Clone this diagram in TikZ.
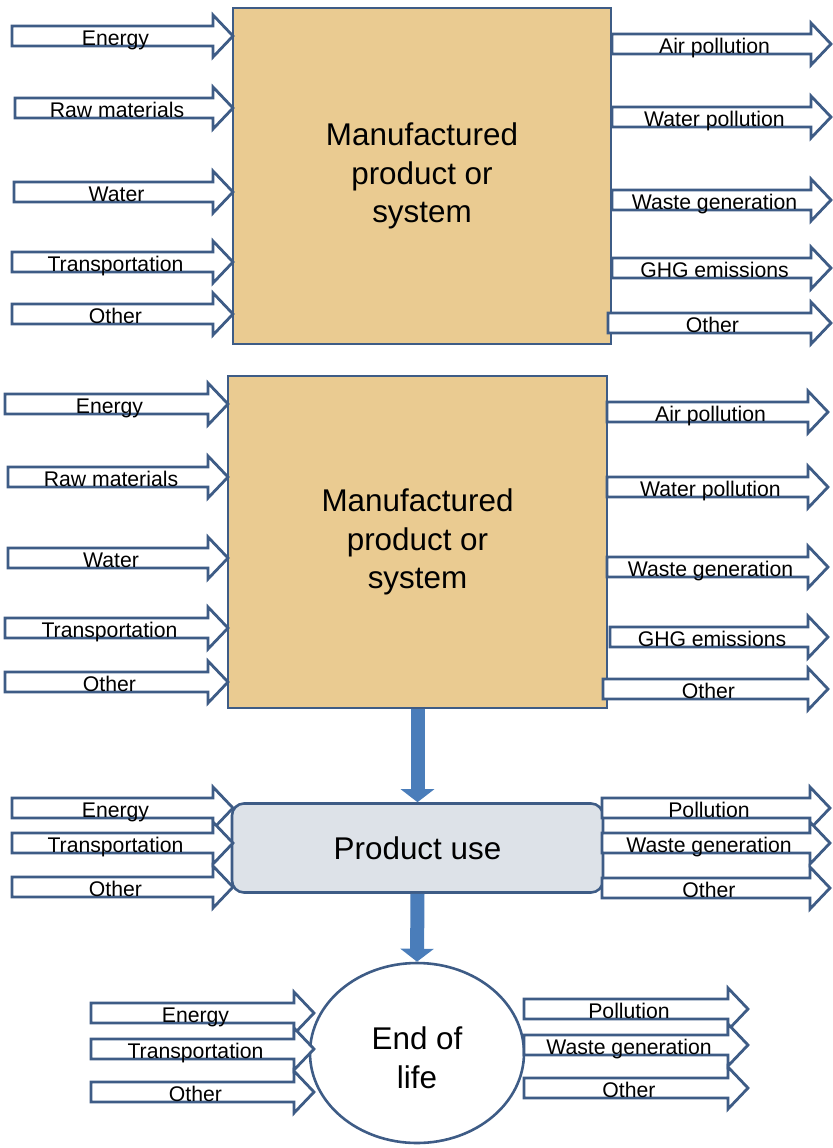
\documentclass[tikz,border=0pt]{standalone}
\usepackage{fontspec}
\setmainfont{Liberation Sans}
\usepackage{tikz}
\usetikzlibrary{arrows.meta,shapes.geometric}

\definecolor{arrowline}{HTML}{3E5C86}
\definecolor{papyrus}{HTML}{EACB91}
\definecolor{usegray}{HTML}{DDE2E8}
\definecolor{flowblue}{HTML}{4A7DBA}

\tikzset{
  flowarrow/.style={draw=arrowline, fill=white, line width=1.4pt, line join=miter},
  flowlabel/.style={anchor=base, inner sep=0pt, font=\fontsize{10.6}{12}\selectfont},
  stagebox/.style={draw=arrowline, fill=papyrus, line width=1.4pt, align=center,
    minimum width=189pt, minimum height=168pt, font=\fontsize{15.7}{19.3}\selectfont},
  usebox/.style={draw=arrowline, fill=usegray, line width=1.3pt, rounded corners=6pt,
    minimum width=185.5pt, minimum height=44.5pt, font=\fontsize{15.7}{19.3}\selectfont},
  eolbox/.style={ellipse, draw=arrowline, fill=white, line width=1.3pt,
    minimum width=107pt, minimum height=90pt},
  eoltext/.style={align=center, font=\fontsize{15.7}{19.3}\selectfont},
  downflow/.style={draw=flowblue, line width=7pt, -{Triangle[width=16.5pt,length=6.5pt]}}
}

% #1 name, #2 tail x, #3 tip x, #4 centre y, #5 text
\newcommand{\flowarrow}[5]{%
  \draw[flowarrow] (#2,#4-10) -- (#3-20,#4-10) -- (#3-20,#4-21) -- (#3,#4)
    -- (#3-20,#4+21) -- (#3-20,#4+10) -- (#2,#4+10) -- cycle;
  \node[flowlabel] (#1) at ({(#2+#3-20)/2+3},#4+9) {#5};
}

\begin{document}
\begin{tikzpicture}[x=0.5pt, y=-0.5pt]
    \useasboundingbox (0,0) rectangle (833,1148);

    % Manufacturing stage (top)
    \node[stagebox] (make1) at (422,176) {Manufactured\\product or\\system};
    \foreach \n/\lx/\y/\txt in {ia/12/36/Energy, ib/15/108/Raw materials, ic/14/192/Water,
        id/12/262/Transportation, ie/12/314/Other}
      {\flowarrow{make1-\n}{\lx}{233}{\y}{\txt}}
    \foreach \n/\lx/\y/\txt in {oa/612/44/Air pollution, ob/612/117/Water pollution,
        oc/612/200/Waste generation, od/612/268/GHG emissions, oe/608/323/Other}
      {\flowarrow{make1-\n}{\lx}{831}{\y}{\txt}}

    % Manufacturing stage (second)
    \node[stagebox, minimum width=189.5pt, minimum height=166pt] (make2) at (417.5,542) {Manufactured\\product or\\system};
    \foreach \n/\lx/\y/\txt in {ia/5/404/Energy, ib/8/477/Raw materials, ic/8/558/Water,
        id/5/628/Transportation, ie/5/682/Other}
      {\flowarrow{make2-\n}{\lx}{228}{\y}{\txt}}
    \foreach \n/\lx/\y/\txt in {oa/607/412/Air pollution, ob/607/487/Water pollution,
        oc/607/567/Waste generation, od/610/637/GHG emissions, oe/603/689/Other}
      {\flowarrow{make2-\n}{\lx}{828}{\y}{\txt}}

    % Use stage
    \node[usebox] (use) at (417.5,848) {Product use};
    \foreach \n/\y/\txt in {ia/808/Energy, ib/843/Transportation, ic/887/Other}
      {\flowarrow{use-\n}{12}{233}{\y}{\txt}}
    \foreach \n/\y/\txt in {oa/808/Pollution, ob/843/Waste generation, oc/888/Other}
      {\flowarrow{use-\n}{602}{830}{\y}{\txt}}

    % End of life
    \node[eolbox] (eol) at (417,1053) {};
    \node[eoltext] (eollabel) at (417,1058) {End of\\life};
    \foreach \n/\y/\txt in {ia/1013/Energy, ib/1049/Transportation, ic/1092/Other}
      {\flowarrow{eol-\n}{91}{314}{\y}{\txt}}
    \foreach \n/\y/\txt in {oa/1009/Pollution, ob/1045/Waste generation, oc/1088/Other}
      {\flowarrow{eol-\n}{524}{748}{\y}{\txt}}

    % stage links
    \draw[downflow] (make2.south) -- (use.north);
    \draw[downflow] (use.south) -- (eol.north);

\end{tikzpicture}
\end{document}
